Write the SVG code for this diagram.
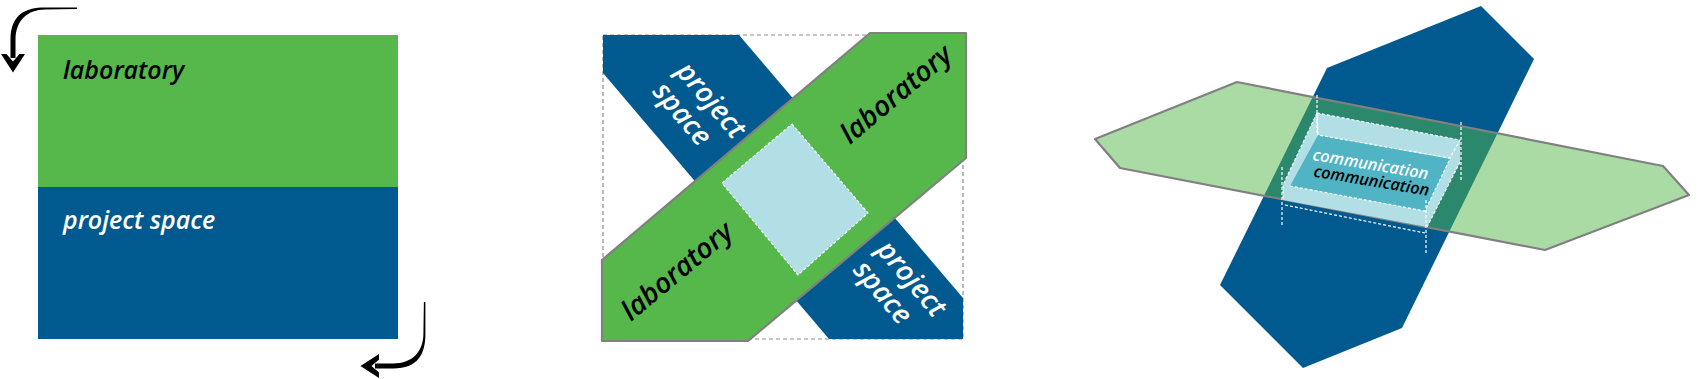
<svg xmlns="http://www.w3.org/2000/svg" xmlns:xlink="http://www.w3.org/1999/xlink" width="1700" height="379" viewBox="0 0 1700 379">
<style>
.lbl{font-family:"Open Sans","Liberation Sans",sans-serif;font-style:italic;font-weight:600}
.green{fill:#56b74b}
.blue{fill:#00598f}
.lblue{fill:#b1dfe5}
.teal{fill:#50b4c4}
.gdash{fill:none;stroke:#8c8c8c;stroke-width:1.2;stroke-dasharray:4 3}
.wdash{fill:none;stroke:#ffffff;stroke-width:1.2;stroke-dasharray:3 2}
.gline{stroke:#808080;stroke-width:2.2;stroke-linejoin:round}
.comm{font-size:16.4px}
</style>
<defs>
<g id="arrow">
<path d="M77,7.6 L45,7.6 C25,7.6 10.5,15 10.5,40 L10.5,58 L15.5,58 L15.5,40 C15.5,20 28,9.8 45,9.6 L77,9.1 Z" fill="#000"/>
<polygon points="1,54 6.5,54 13,61.5 19.5,54 25,54 13,72.5" fill="#000"/>
</g>
</defs>

<g id="panel1">
<g id="p1-laboratory">
<rect class="green" x="38" y="35" width="360" height="152"/>
<text class="lbl" x="63" y="79" font-size="25" fill="#000">laboratory</text>
</g>
<g id="p1-project-space">
<rect class="blue" x="38" y="187" width="360" height="152"/>
<text class="lbl" x="63" y="229" font-size="25" fill="#fff">project space</text>
</g>
</g>

<g id="connectors">
<use xlink:href="#arrow"/>
<use xlink:href="#arrow" transform="matrix(0,-1,-1,0,433,379)"/>
</g>

<g id="panel2">
<rect id="p2-frame" class="gdash" x="603" y="35" width="360" height="304"/>
<g id="p2-project-space">
<polygon class="blue" points="603,35 739,35 963,298 963,339 829,339 603,73"/>
</g>
<g id="p2-laboratory">
<polygon class="green gline" points="870,33 966,33 966,158 748,341 602,341 602,260"/>
</g>
<g id="p2-communication">
<polygon class="lblue" points="792,124 868,213 798,275 722,183"/>
<polygon class="wdash" points="792,124 868,213 798,275 722,183"/>
</g>
<text class="lbl" font-size="28" fill="#fff" transform="translate(675,72) rotate(49.6)"><tspan x="0" y="0">project</tspan><tspan x="0" y="31">space</tspan></text>
<text class="lbl" font-size="28" fill="#fff" transform="translate(875.5,250.5) rotate(49.6)"><tspan x="0" y="0">project</tspan><tspan x="0" y="31">space</tspan></text>
<text class="lbl" font-size="28" fill="#000" transform="translate(631,322) rotate(-40)">laboratory</text>
<text class="lbl" font-size="28" fill="#000" transform="translate(850,145) rotate(-40)">laboratory</text>
</g>

<g id="panel3">
<g id="p3-project-space">
<polygon class="blue" points="1481,6 1534,59 1402,328 1303,368 1220,285 1327,68"/>
</g>
<g id="p3-laboratory">
<polygon fill="#56b74b" fill-opacity="0.5" class="gline" points="1237,82 1663,166 1689,195 1545,250 1120,168 1095,139"/>
</g>
<g id="p3-communication">
<polygon class="lblue" points="1317,113 1460,140 1460,162 1427,227 1283,200 1283,185"/>
<polygon class="teal" points="1318,135 1450,159 1425,211 1290,186"/>
<polygon class="wdash" points="1317,113 1460,140 1450,158 1318,135"/>
<polyline class="wdash" points="1317,113 1283,185 1283,200"/>
<polyline class="wdash" points="1290,186 1425,211 1450,159"/>
<polyline class="wdash" points="1460,162 1427,227"/>
<line class="wdash" x1="1285" y1="205" x2="1425" y2="233"/>
<line class="wdash" x1="1317" y1="95" x2="1317" y2="135"/>
<line class="wdash" x1="1282" y1="167" x2="1282" y2="227"/>
<line class="wdash" x1="1461" y1="122" x2="1461" y2="180"/>
<line class="wdash" x1="1426" y1="200" x2="1426" y2="253"/>
<text class="lbl comm" fill="#fff" transform="translate(1312,160) rotate(9.5)">communication</text>
<text class="lbl comm" fill="#000" transform="translate(1313,176.5) rotate(9.5)">communication</text>
</g>
</g>
</svg>
